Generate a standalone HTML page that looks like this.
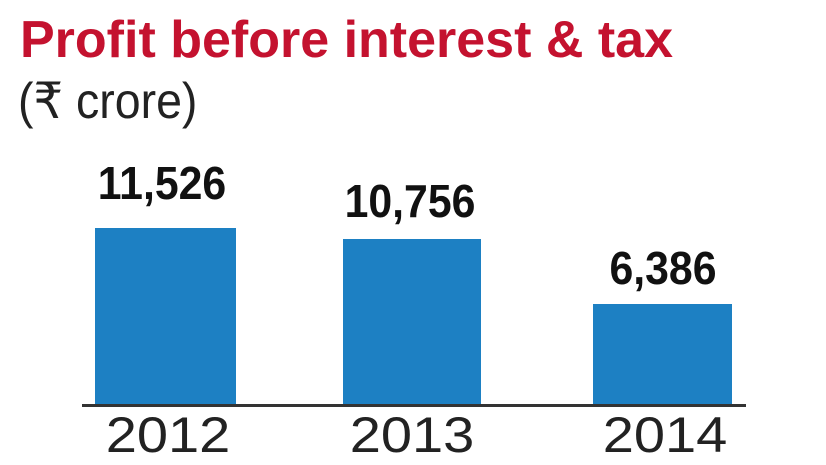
<!DOCTYPE html>
<html><head><meta charset="utf-8"><style>
body{margin:0;width:826px;height:465px;background:#fff;overflow:hidden;position:relative;font-family:"Liberation Sans",sans-serif}
.t{position:absolute;white-space:nowrap;transform-origin:left top}
.bar{position:absolute;background:#1d80c3}
.v{position:absolute;font-weight:bold;font-size:46px;color:#111;text-align:center;width:200px;transform:scaleX(0.93)}
.y{position:absolute;font-size:50px;color:#222;text-align:center;width:200px;transform:scaleX(1.12)}
</style></head><body>
<div class="t" style="left:20px;top:10px;font-size:52px;font-weight:bold;color:#c4122f;transform:scaleX(1.0)">Profit before interest &amp; tax</div>
<div class="t" style="left:18px;top:72px;font-size:50px;color:#222;transform:scaleX(0.93)">(₹ crore)</div>
<div class="bar" style="left:95px;top:228px;width:141px;height:177px"></div>
<div class="bar" style="left:343px;top:239px;width:138px;height:166px"></div>
<div class="bar" style="left:593px;top:304px;width:139px;height:101px"></div>
<div style="position:absolute;left:82px;top:404px;width:664px;height:3px;background:#333"></div>
<div class="v" style="left:62px;top:156px">11,526</div>
<div class="v" style="left:310px;top:174px">10,756</div>
<div class="v" style="left:563px;top:241px">6,386</div>
<div class="y" style="left:68px;top:406px">2012</div>
<div class="y" style="left:312px;top:406px">2013</div>
<div class="y" style="left:565px;top:406px">2014</div>
</body></html>
